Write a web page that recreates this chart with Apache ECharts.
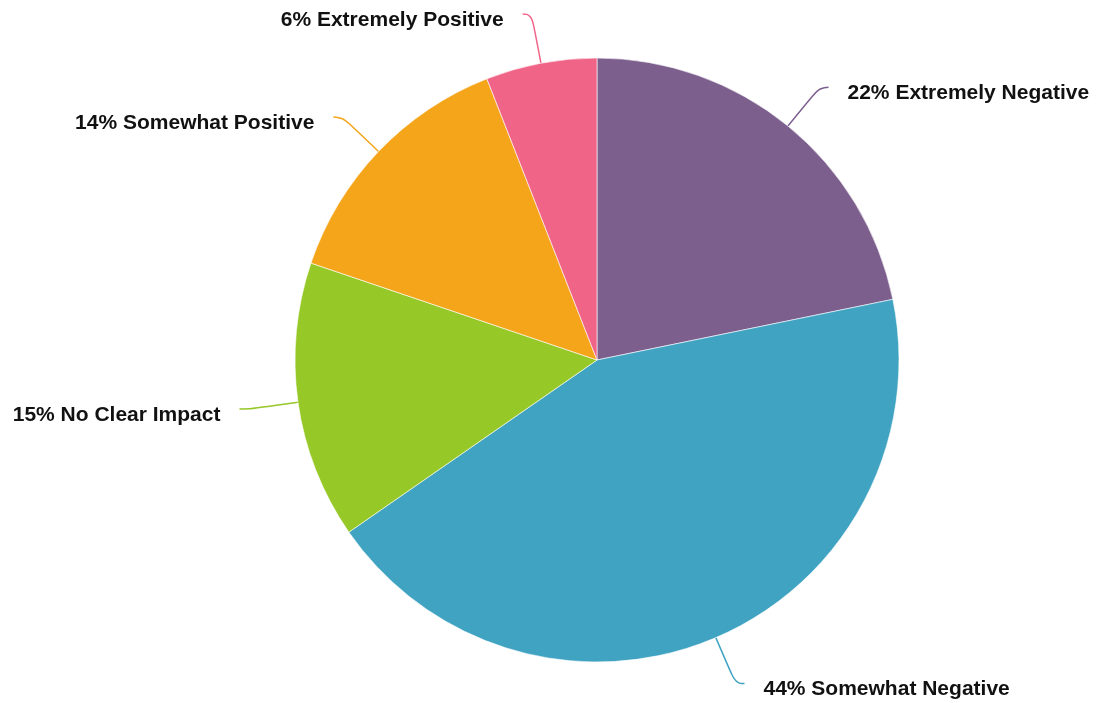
<!DOCTYPE html>
<html>
<head>
<meta charset="utf-8">
<script src="https://cdn.jsdelivr.net/npm/echarts@6/dist/echarts.min.js"></script>
<style>
  html, body { margin: 0; padding: 0; background: #ffffff; }
  #chart { width: 1097px; height: 703px; }
</style>
</head>
<body>
<div id="chart"></div>
<script>
// Survey responses, clockwise from 12 o'clock
const categories = [
  'Extremely Negative',
  'Somewhat Negative',
  'No Clear Impact',
  'Somewhat Positive',
  'Extremely Positive'
];
const shares = [22, 44, 15, 14, 6];
const colors = ['#7d5f8e', '#40a3c2', '#96c827', '#f5a51a', '#f06488'];

const chart = echarts.init(document.getElementById('chart'), null, { renderer: 'canvas' });

const labelFont = '"Liberation Sans", Arial, sans-serif';

chart.setOption({
  backgroundColor: '#ffffff',
  animation: false,
  series: [{
    type: 'pie',
    center: [597, 360],
    radius: 302,
    startAngle: 90,
    clockwise: true,
    avoidLabelOverlap: false,
    data: categories.map((name, i) => ({
      name: name,
      value: shares[i],
      itemStyle: { color: colors[i] }
    })),
    itemStyle: { borderColor: '#ffffff', borderWidth: 0.6 },
    label: {
      show: true,
      // an empty spacer line sits the text a little below the line end
      formatter: p => '{s|}\n{t|' + p.value + '% ' + p.name + '}',
      distanceToLabelLine: 19,
      rich: {
        s: { height: 12, lineHeight: 12, fontSize: 1 },
        t: {
          fontFamily: labelFont,
          fontWeight: 'bold',
          fontSize: 21,
          lineHeight: 24,
          color: '#111111'
        }
      }
    },
    labelLine: {
      show: true,
      length: 50,
      length2: 9,
      smooth: 0.5,
      lineStyle: { width: 1.5 }
    },
    emphasis: { disabled: true }
  }]
});
</script>
</body>
</html>
